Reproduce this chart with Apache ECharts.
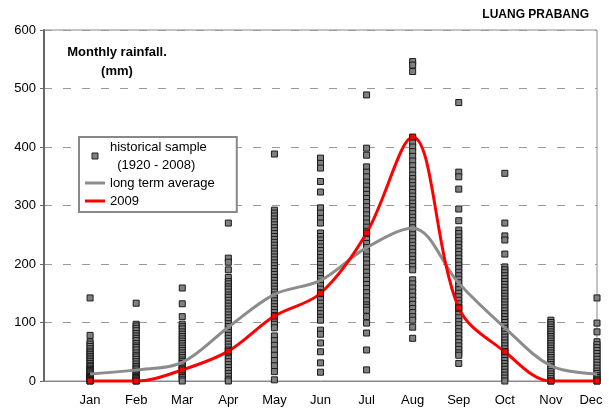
<!DOCTYPE html>
<html>
<head>
<meta charset="utf-8">
<script src="https://cdn.jsdelivr.net/npm/echarts@6/dist/echarts.min.js"></script>
<style>
  html, body { margin: 0; padding: 0; background: #fff; }
  #chart { width: 609px; height: 410px; }
</style>
</head>
<body>
<div id="chart"></div>
<script>
// Month names used as tick labels (positions 1..12 on the x axis)
const months = ['Jan', 'Feb', 'Mar', 'Apr', 'May', 'Jun', 'Jul', 'Aug', 'Sep', 'Oct', 'Nov', 'Dec'];

// Historical monthly rainfall samples, 1920 - 2008 (mm)
const janSample = [142, 78, 67, 63, 59, 55, 51, 48, 45, 42, 39, 36, 33, 30, 27, 25, 22, 20, 18, 16, 14, 12, 10, 8, 7, 6, 5, 4, 3, 2, 1, 0];
const febSample = [133, 97, 94, 90, 86, 81, 77, 73, 69, 64, 60, 57, 53, 48, 44, 41, 37, 33, 29, 25, 22, 19, 16, 13, 10, 8, 6, 4, 2, 0];
const marSample = [159, 132, 110, 97, 93, 89, 84, 80, 76, 72, 68, 64, 60, 56, 52, 48, 44, 40, 36, 33, 30, 27, 24, 21, 18, 15, 12, 9, 6, 3, 0];
const aprSample = [270, 210, 203, 190, 177, 170, 166, 161, 157, 152, 147, 143, 138, 133, 128, 123, 118, 113, 108, 103, 98, 93, 88, 83, 78, 73, 68, 63, 58, 53, 48, 43, 38, 33, 28, 23, 18, 13, 8, 3, 0];
const maySample = [388, 292, 287, 282, 277, 272, 267, 262, 257, 252, 247, 242, 237, 232, 227, 222, 217, 212, 207, 202, 197, 192, 187, 182, 177, 172, 167, 162, 157, 152, 147, 142, 137, 132, 127, 122, 117, 112, 107, 102, 97, 91, 77, 69, 61, 53, 44, 35, 26, 16, 2];
const junSample = [381, 372, 364, 341, 323, 296, 287, 278, 270, 253, 247, 241, 235, 229, 223, 217, 211, 205, 199, 193, 187, 181, 175, 169, 163, 157, 151, 145, 139, 133, 127, 121, 115, 109, 104, 87, 80, 65, 50, 31, 15];
const julSample = [489, 398, 386, 366, 357, 349, 340, 333, 326, 319, 312, 305, 298, 291, 284, 277, 270, 263, 256, 249, 242, 235, 228, 221, 212, 207, 200, 193, 186, 179, 172, 165, 158, 151, 144, 137, 130, 126, 121, 110, 99, 82, 53, 19];
const augSample = [546, 540, 529, 415, 408, 400, 392, 384, 376, 368, 360, 352, 346, 340, 334, 328, 322, 316, 310, 304, 298, 292, 286, 280, 274, 268, 262, 256, 250, 244, 238, 232, 226, 220, 214, 208, 202, 196, 190, 173, 166, 159, 152, 145, 138, 131, 124, 117, 110, 104, 92, 73];
const sepSample = [476, 357, 349, 328, 294, 274, 258, 252, 246, 240, 234, 228, 222, 216, 210, 204, 198, 192, 186, 180, 174, 168, 162, 156, 150, 144, 138, 132, 126, 120, 114, 108, 102, 96, 90, 84, 78, 72, 66, 60, 54, 48, 44, 30];
const octSample = [355, 270, 248, 241, 217, 195, 190, 185, 180, 175, 170, 165, 160, 155, 150, 145, 140, 135, 130, 125, 120, 115, 110, 105, 100, 95, 90, 85, 80, 75, 70, 65, 60, 55, 50, 45, 40, 35, 30, 25, 20, 15, 10, 5, 0];
const novSample = [104, 100, 96, 92, 88, 84, 80, 76, 72, 68, 64, 60, 56, 52, 48, 44, 40, 36, 32, 28, 24, 20, 16, 12, 8, 4, 0];
const decSample = [142, 99, 84, 67, 62, 57, 52, 47, 42, 37, 32, 27, 22, 17, 13, 9, 6, 3, 0];

// Long term monthly average (mm)
const longTermAverage = [12, 19, 32, 92, 148, 172, 228, 261, 167, 91, 26, 12];

// Monthly rainfall in 2009 (mm)
const rain2009 = [0, 0, 19, 51, 111, 150, 253, 417, 125, 50, 0, 0];

// Y axis range and step
const yMin = 0, yMax = 600, yStep = 100;

const samplesByMonth = [janSample, febSample, marSample, aprSample, maySample, junSample,
  julSample, augSample, sepSample, octSample, novSample, decSample];

const scatterData = [];
samplesByMonth.forEach(function (vals, i) {
  vals.forEach(function (v) { scatterData.push([i + 1, v]); });
});
const avgData = longTermAverage.map(function (v, i) { return [i + 1, v]; });
const data2009 = rain2009.map(function (v, i) { return [i + 1, v]; });

const FONT = '"Liberation Sans", Arial, sans-serif';

const chart = echarts.init(document.getElementById('chart'), null, { renderer: 'canvas' });

chart.setOption({
  animation: false,
  backgroundColor: '#fff',
  textStyle: { fontFamily: FONT },
  grid: {
    left: 44, right: 12, top: 30, bottom: 29,
    show: true, borderColor: '#888', borderWidth: 1, backgroundColor: 'transparent'
  },
  xAxis: {
    type: 'value', min: 0, max: 12, interval: 1,
    axisLine: { show: true, lineStyle: { color: '#888', width: 1 } },
    axisTick: { show: false },
    splitLine: { show: false },
    axisLabel: {
      color: '#000', fontSize: 13, fontFamily: FONT, margin: 13,
      showMinLabel: true, showMaxLabel: true,
      formatter: function (v) {
        if (v < 1) return '';
        if (v === 12) return '{d|' + months[11] + '}';
        return months[v - 1];
      },
      rich: { d: { fontSize: 13, fontFamily: FONT, color: '#000', padding: [0, 12, 0, 0] } }
    }
  },
  yAxis: {
    type: 'value', min: yMin, max: yMax, interval: yStep,
    axisLine: { show: true, lineStyle: { color: '#666', width: 2 } },
    axisTick: { show: true, length: 4, inside: false, lineStyle: { color: '#666', width: 1 } },
    splitLine: { show: true, lineStyle: { color: '#9a9a9a', width: 1, type: [8, 11] } },
    axisLabel: { color: '#000', fontSize: 13, fontFamily: FONT, margin: 8 }
  },
  legend: {
    orient: 'vertical',
    left: 79, top: 137,
    padding: [1, 22, 2, 6],
    itemWidth: 20, itemHeight: 6, itemGap: 0,
    backgroundColor: '#fff',
    borderColor: '#888', borderWidth: 2,
    selectedMode: false,
    textStyle: { color: '#000', fontSize: 13, fontFamily: FONT, lineHeight: 18 },
    formatter: function (name) {
      return name === 'historical sample' ? 'historical sample\n  (1920 - 2008)' : name;
    },
    data: [
      { name: 'historical sample', icon: 'path://M0,0h1v1h-1z',
        itemStyle: { color: '#808080', borderColor: '#222', borderWidth: 1 } },
      { name: 'long term average', icon: 'path://M0,0h20v3h-20z',
        itemStyle: { color: '#8c8c8c', borderWidth: 0 } },
      { name: '2009', icon: 'path://M0,0h20v3h-20z',
        itemStyle: { color: '#ff0000', borderWidth: 0 } }
    ]
  },
  graphic: [
    { type: 'text', x: 117, y: 52,
      style: { text: 'Monthly rainfall.', font: 'bold 13px ' + FONT, fill: '#000',
        textAlign: 'center', textVerticalAlign: 'middle' } },
    { type: 'text', x: 117, y: 71,
      style: { text: '(mm)', font: 'bold 13px ' + FONT, fill: '#000',
        textAlign: 'center', textVerticalAlign: 'middle' } },
    { type: 'text', x: 589, y: 15,
      style: { text: 'LUANG PRABANG', font: 'bold 12px ' + FONT, fill: '#000',
        textAlign: 'right', textVerticalAlign: 'middle' } }
  ],
  series: [
    {
      name: 'historical sample',
      type: 'scatter',
      data: scatterData,
      symbol: 'rect',
      symbolSize: 6,
      clip: false,
      itemStyle: { color: '#808080', borderColor: '#1a1a1a', borderWidth: 1, opacity: 1 },
      z: 2
    },
    {
      name: 'long term average',
      type: 'line',
      data: avgData,
      smooth: 0.35,
      showSymbol: false,
      symbol: 'none',
      lineStyle: { color: '#8c8c8c', width: 3 },
      itemStyle: { color: '#8c8c8c' },
      z: 3
    },
    {
      name: '2009',
      type: 'line',
      data: data2009,
      smooth: 0.35,
      symbol: 'rect',
      symbolSize: 6,
      showAllSymbol: true,
      clip: false,
      lineStyle: { color: '#ff0000', width: 3 },
      itemStyle: { color: '#ff0000', borderColor: '#1a1a1a', borderWidth: 1 },
      z: 4
    }
  ]
});
</script>
</body>
</html>
